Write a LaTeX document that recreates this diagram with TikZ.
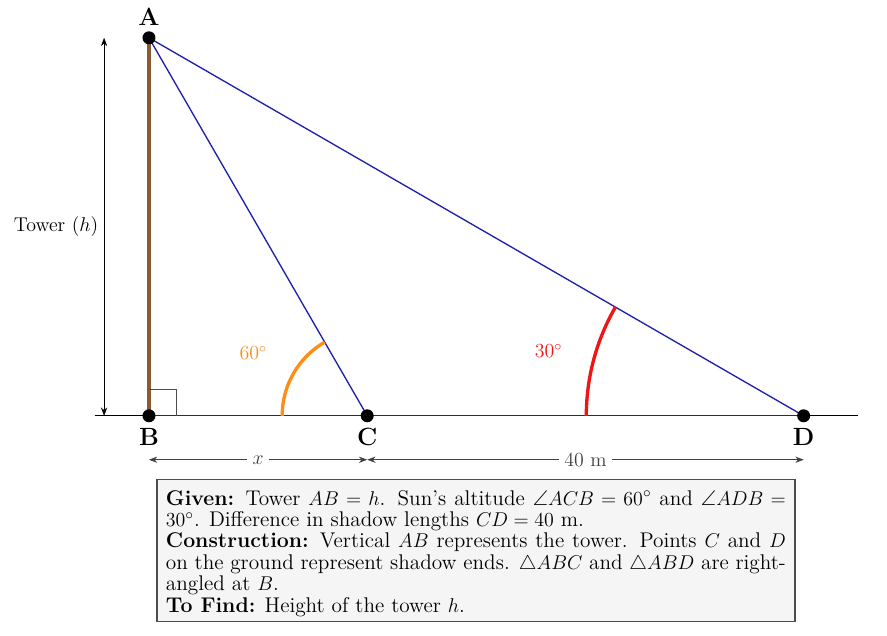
\documentclass[tikz,border=0pt]{standalone}
\usepackage{amsmath,amssymb}
\usepackage{tikz}
\usetikzlibrary{positioning,calc,arrows.meta}
\definecolor{myblue}{RGB}{30,30,175}
\definecolor{mybrown}{RGB}{140,90,50}
\definecolor{myorange}{RGB}{255,140,20}
\definecolor{myred}{RGB}{240,20,20}

\begin{document}
\begin{tikzpicture}[thick,
	every node/.style={font=\fontsize{12}{12.6}\selectfont},
	dotnode/.style={draw,circle,fill=black,inner sep=0pt,minimum size=7pt},
	ptlabel/.style={font=\fontsize{15}{17}\selectfont\bfseries},
	sideline/.style={myblue,thick},
	towerline/.style={mybrown,line width=2pt},
	dimline/.style={black!75,thin,{Stealth[length=5pt]}-{Stealth[length=5pt]}},
	infobox/.style={draw=black!70,fill=black!4,text width=13.12cm,inner xsep=5.5pt,inner ysep=3pt,align=justify,
		font=\fontsize{12.8}{12.9}\selectfont}
	]
	\useasboundingbox (-3.153,-4.655) rectangle (15.62,8.80);
	
	% the points
	\coordinate (B) at (0,0);
	\coordinate (A) at (0,8);
	\coordinate (C) at (4.619,0);
	\coordinate (D) at (13.856,0);
	\coordinate (gl) at (-1.15,0);
	\coordinate (gr) at (15.0,0);
	
	% the ground and the lines
	\draw[black] (gl) -- (gr);
	\draw[sideline] (B) -- (D);
	\draw[sideline] (A) -- (C);
	\draw[sideline] (A) -- (D);
	\draw[towerline] (B) -- (A);
	\draw[black!70,thin] (0,0.57) -| (0.57,0);
	
	% the angles
	\draw[myorange,line width=2pt] ($(C)+(-1.8,0)$) arc (180:120:1.8);
	\node[myorange] (a60) at ($(C)+(-2.41,1.33)$) {$60^\circ$};
	\draw[myred,line width=2pt] ($(D)+(-4.6,0)$) arc (180:150:4.6);
	\node[myred] (a30) at ($(D)+(-5.40,1.37)$) {$30^\circ$};
	
	% the dots
	\node[dotnode,label={[ptlabel]above:A}] (dotA) at (A) {};
	\node[dotnode,label={[ptlabel]below:B}] (dotB) at (B) {};
	\node[dotnode,label={[ptlabel]below:C}] (dotC) at (C) {};
	\node[dotnode,label={[ptlabel]below:D}] (dotD) at (D) {};
	
	% the dimensions
	\coordinate (hb) at (-0.95,0);
	\coordinate (ht) at (-0.95,8);
	\draw[black,thin,{Stealth[length=5pt]}-{Stealth[length=5pt]}] (hb) -- node[left] {Tower ($h$)} (ht);
	\coordinate (xb) at (0,-0.93);
	\coordinate (xc) at (4.619,-0.93);
	\coordinate (xd) at (13.856,-0.93);
	\draw[dimline] (xb) -- node[fill=white] {$x$} (xc);
	\draw[dimline] (xc) -- node[fill=white] {40 m} (xd);
	
	% the box
	\node[infobox,anchor=north] (info) at (6.92,-1.33) {\rule{0pt}{12.5pt}\textbf{Given:} Tower $AB = h$. Sun's altitude $\angle ACB = 60^\circ$ and $\angle ADB = 30^\circ$. Difference in shadow lengths $CD = 40$ m.\\
	\textbf{Construction:} Vertical $AB$ represents the tower. Points $C$ and $D$ on the ground represent shadow ends. $\triangle ABC$ and $\triangle ABD$ are right-angled at $B$.\\
	\textbf{To Find:} Height of the tower $h$.};
\end{tikzpicture}
\end{document}
